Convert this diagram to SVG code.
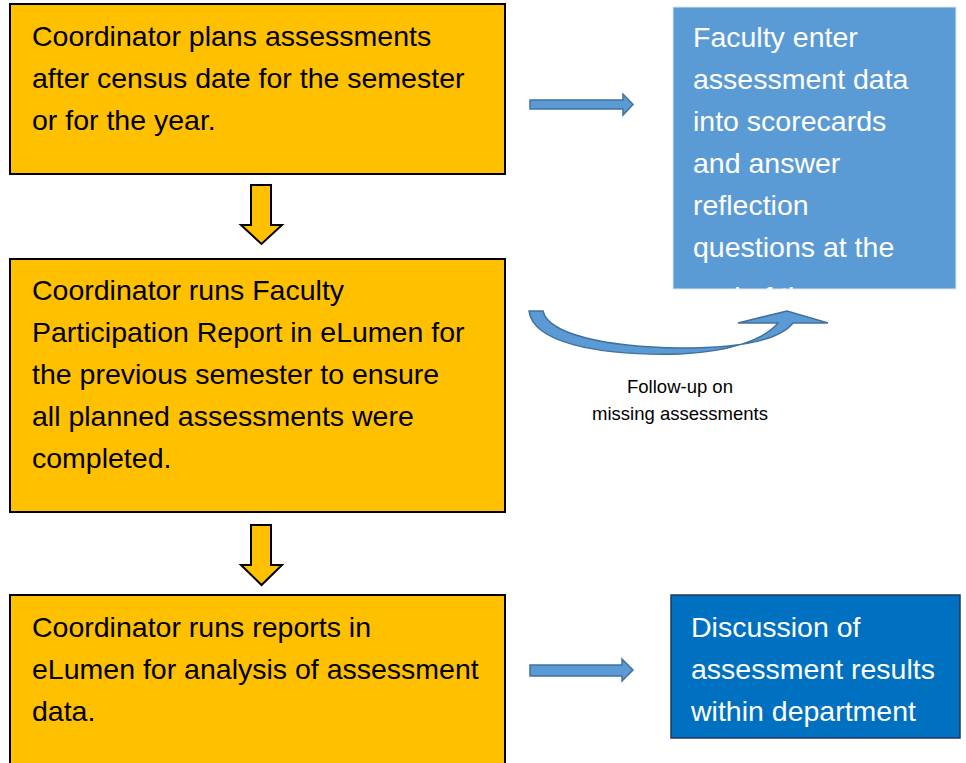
<svg xmlns="http://www.w3.org/2000/svg" width="966" height="763" viewBox="0 0 966 763">
<style>
.ybox{fill:#FFC000;stroke:#000;stroke-width:2}
.t{font-family:"Liberation Sans",Arial,sans-serif;font-size:28.5px;fill:#000}
.w{font-family:"Liberation Sans",Arial,sans-serif;font-size:28.5px;fill:#fff}
.s{font-family:"Liberation Sans",Arial,sans-serif;font-size:18.5px;fill:#000;text-anchor:middle}
.barrow{fill:#5B9BD5;stroke:#41719C;stroke-width:1.5}
.darrow{fill:#FFC000;stroke:#000;stroke-width:2}
</style>
<defs>
<clipPath id="clipF"><rect x="673" y="7" width="283" height="282"/></clipPath>
</defs>
<rect width="966" height="763" fill="#fff"/>
<g id="node-plan">
<rect class="ybox" x="10" y="4" width="495" height="170"/>
<text class="t" x="32" y="46">Coordinator plans assessments</text>
<text class="t" x="32" y="88">after census date for the semester</text>
<text class="t" x="32" y="130">or for the year.</text>
</g>
<g id="node-participation">
<rect class="ybox" x="10" y="259" width="495" height="253"/>
<text class="t" x="32" y="300">Coordinator runs Faculty</text>
<text class="t" x="32" y="342">Participation Report in eLumen for</text>
<text class="t" x="32" y="384">the previous semester to ensure</text>
<text class="t" x="32" y="426">all planned assessments were</text>
<text class="t" x="32" y="468">completed.</text>
</g>
<g id="node-reports">
<rect class="ybox" x="10" y="595" width="495" height="180"/>
<text class="t" x="32" y="637">Coordinator runs reports in</text>
<text class="t" x="32" y="679">eLumen for analysis of assessment</text>
<text class="t" x="32" y="721">data.</text>
</g>
<g id="node-faculty">
<rect x="673" y="7" width="283" height="282" fill="#5B9BD5" stroke="#DCE8F5" stroke-width="1"/>
<g clip-path="url(#clipF)">
<text class="w" x="693" y="47">Faculty enter</text>
<text class="w" x="693" y="89">assessment data</text>
<text class="w" x="693" y="131">into scorecards</text>
<text class="w" x="693" y="173">and answer</text>
<text class="w" x="693" y="215">reflection</text>
<text class="w" x="693" y="257">questions at the</text>
<text class="w" x="693" y="307">end of the</text>
</g>
</g>
<g id="node-discussion">
<rect x="671" y="595" width="289" height="143" fill="#0070C0" stroke="#1F3864" stroke-width="1.5"/>
<text class="w" x="691" y="637">Discussion of</text>
<text class="w" x="691" y="679">assessment results</text>
<text class="w" x="691" y="721">within department</text>
</g>
<g id="connectors">
<path class="darrow" d="M251,185 H271 V225 H282 L261.5,244 L241,225 H251 Z"/>
<path class="darrow" d="M251,525 H271 V565 H282 L261.5,585 L241,565 H251 Z"/>
<path class="barrow" d="M530,100 H623 V94 L633,104.5 L623,115 V109 H530 Z"/>
<path class="barrow" d="M530,665 H622 V659 L633,670 L622,681 V676 H530 Z"/>
<path class="barrow" d="M529,311 C533,342 595,356 680,354 C728,352 764,340 778,323 L738,323 L787,311 L828,323 L793,323 C778,342 735,348 680,348 C605,347 548,334 543,311 Z"/>
<text class="s" x="680" y="393">Follow-up on</text>
<text class="s" x="680" y="420">missing assessments</text>
</g>
</svg>
